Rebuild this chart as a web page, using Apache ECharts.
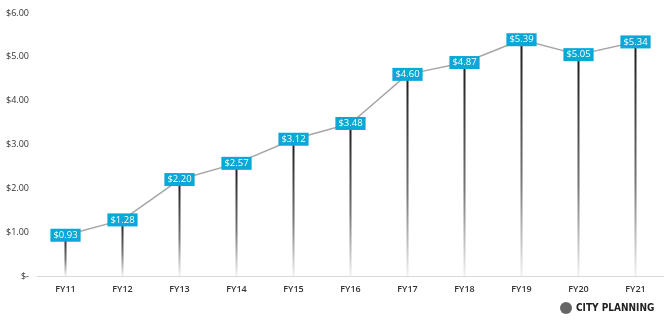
<!DOCTYPE html>
<html>
<head>
<meta charset="utf-8">
<script src="https://cdn.jsdelivr.net/npm/echarts@6/dist/echarts.min.js"></script>
<style>
  html, body { margin: 0; padding: 0; background: #fff; }
  #chart { width: 664px; height: 324px; }
</style>
</head>
<body>
<div id="chart"></div>
<script>
var years = ["FY11", "FY12", "FY13", "FY14", "FY15", "FY16", "FY17", "FY18", "FY19", "FY20", "FY21"];
var values = [0.93, 1.28, 2.20, 2.57, 3.12, 3.48, 4.60, 4.87, 5.39, 5.05, 5.34];
var yTicks = [0, 1, 2, 3, 4, 5, 6];

var myChart = echarts.init(document.getElementById("chart"));
var font = "'Open Sans', 'DejaVu Sans', sans-serif";

var option = {
    animation: false,
    grid: {
        left: 37,
        top: 13,
        width: 634,
        height: 263
    },
    xAxis: {
        type: "category",
        data: years,
        boundaryGap: true,
        axisLine: { lineStyle: { color: "#d9d9d9", width: 1 } },
        axisTick: { show: false },
        axisLabel: { color: "#333", fontSize: 9, fontFamily: font, fontWeight: 600, margin: 9 }
    },
    yAxis: {
        type: "value",
        min: yTicks[0],
        max: yTicks[yTicks.length - 1],
        interval: 1,
        splitLine: { show: false },
        axisLine: { show: false },
        axisTick: { show: false },
        axisLabel: {
            color: "#333",
            fontSize: 9,
            fontFamily: font,
            margin: 8,
            formatter: function (v) {
                return v === 0 ? "$-" : "$" + v.toFixed(2);
            }
        }
    },
    series: [
        {
            // 竖线
            type: "bar",
            data: values,
            barWidth: 2,
            itemStyle: {
                color: new echarts.graphic.LinearGradient(0, 0, 0, 1, [
                    { offset: 0, color: "#1a1a1a" },
                    { offset: 0.6, color: "#777" },
                    { offset: 1, color: "#f2f2f2" }
                ])
            },
            z: 1
        },
        {
            type: "line",
            data: values,
            symbol: "circle",
            symbolSize: 1,
            showSymbol: true,
            itemStyle: { color: "rgba(0,0,0,0)" },
            lineStyle: { color: "#a6a6a6", width: 1.5 },
            label: {
                show: true,
                position: "inside",
                backgroundColor: "#0aa8d6",
                color: "#fff",
                fontSize: 9.5,
                fontFamily: font,
                padding: [2, 3, 1, 3],
                formatter: function (p) {
                    return "$" + p.value.toFixed(2);
                }
            },
            z: 3
        }
    ],
    graphic: [
        {
            type: "circle",
            left: 560,
            top: 302,
            shape: { r: 6 },
            style: { fill: "#666" }
        },
        {
            type: "text",
            left: 576,
            top: 303,
            style: {
                text: "CITY PLANNING",
                fill: "#222",
                font: "bold 10px 'DejaVu Sans Condensed', 'DejaVu Sans', sans-serif"
            }
        }
    ]
};

myChart.setOption(option);
window.addEventListener("resize", function () {
    myChart.resize();
});
</script>
</body>
</html>
